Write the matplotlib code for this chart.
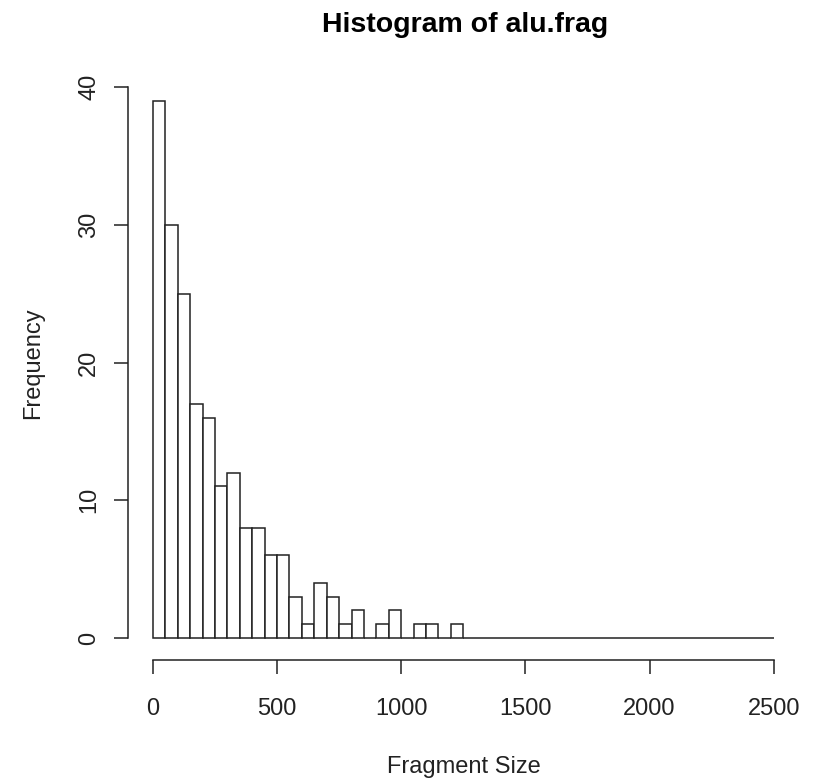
import numpy as np
import matplotlib
matplotlib.use('Agg')
import matplotlib.pyplot as plt

plt.rcParams['font.family'] = ['Liberation Sans', 'DejaVu Sans']

# histogram of alu.frag, breaks every 50 from 0 to 2500
breaks = list(range(0, 2550, 50))
counts = [39, 30, 25, 17, 16, 11, 12, 8, 8, 6,
          6, 3, 1, 4, 3, 1, 2, 0, 1, 2,
          0, 1, 1, 0, 1, 0, 0, 0, 0, 0,
          0, 0, 0, 0, 0, 0, 0, 0, 0, 0,
          0, 0, 0, 0, 0, 0, 0, 0, 0, 0]
x_ticks = [0, 500, 1000, 1500, 2000, 2500]
y_ticks = [0, 10, 20, 30, 40]

LINE = '#222222'
W, H = 814, 784

fig = plt.figure(figsize=(W / 100, H / 100), dpi=100)
ax = fig.add_axes([128 / W, 1 - 659.5 / H, 670.6 / W, 580.2 / H])

edges = np.array(breaks)
ax.bar(edges[:-1], counts, width=np.diff(edges), align='edge',
       facecolor='white', edgecolor=LINE, linewidth=1.1)

# R-style 4% padding around the data range
pad_x = 0.04 * (edges[-1] - edges[0])
pad_y = 0.04 * max(counts)
ax.set_xlim(edges[0] - pad_x, edges[-1] + pad_x)
ax.set_ylim(-pad_y, max(counts) + pad_y)

for side in ('top', 'right'):
    ax.spines[side].set_visible(False)
ax.spines['left'].set_bounds(y_ticks[0], y_ticks[-1])
ax.spines['bottom'].set_bounds(x_ticks[0], x_ticks[-1])
for side in ('left', 'bottom'):
    ax.spines[side].set_color(LINE)
    ax.spines[side].set_linewidth(1.1)

ax.set_xticks(x_ticks)
ax.set_yticks(y_ticks)
ax.set_yticklabels([str(v) for v in y_ticks], rotation=90, va='center')
ax.tick_params(axis='both', length=10, width=1.1, color=LINE,
               labelsize=17, labelcolor='#222222')
ax.tick_params(axis='x', pad=18)
ax.tick_params(axis='y', pad=10)

fig.text(465 / W, 1 - 32 / H, 'Histogram of alu.frag', ha='center', va='baseline',
         fontsize=20.5, fontweight='bold', color='black')
fig.text(464 / W, 1 - 773 / H, 'Fragment Size', ha='center', va='baseline',
         fontsize=17, color='#222222')
fig.text(33 / W, 1 - 363 / H, 'Frequency', ha='center', va='center',
         rotation=90, fontsize=17, color='#222222')

fig.savefig('out.png', dpi=100, facecolor='white')
